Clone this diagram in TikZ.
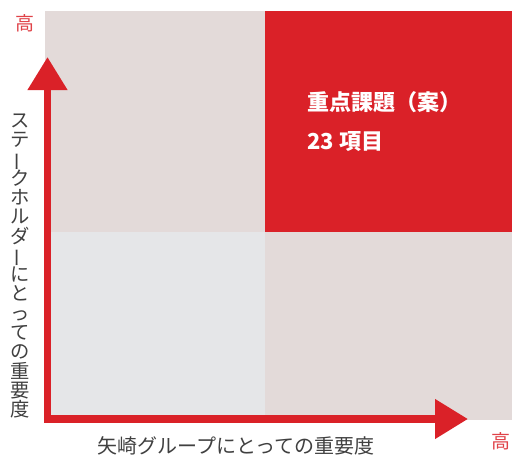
\documentclass[tikz,border=0pt]{standalone}
\usepackage{fontspec}
\usepackage{graphicx}
\setmainfont{Noto Sans CJK JP}
\usetikzlibrary{arrows.meta}
\definecolor{qbeige}{HTML}{E3DAD9}
\definecolor{qgrey}{HTML}{E5E6E8}
\definecolor{qred}{HTML}{DA2128}
\newcommand{\vbar}{\smash{\rotatebox[origin=c]{90}{ー}}}
\tikzset{
  axis/.style={draw=qred, line width=7.5pt, line join=miter,
    {Triangle[width=38pt,length=33pt]}-{Triangle[width=38pt,length=33pt]}},
  hi/.style={text=qred!85, font=\fontsize{19}{19}\selectfont, inner sep=0pt},
  axlabel/.style={text=black!75, inner sep=0pt},
  ttl/.style={text=white, font=\fontsize{22}{22}\selectfont\bfseries, inner sep=0pt, anchor=west}
}
\begin{document}
\begin{tikzpicture}[x=1pt,y=-1pt]
\useasboundingbox (0,0) rectangle (512,455);
\fill[white] (0,0) rectangle (512,455);
% quadrants
\fill[qbeige] (45,11) rectangle (265,232);
\fill[qred] (265,11) rectangle (512,232);
\fill[qgrey] (45,232) rectangle (265,420);
\fill[qbeige] (265,232) rectangle (512,420);
% axes
\coordinate (ytop) at (47.5,57);
\coordinate (orig) at (47.5,419);
\coordinate (xend) at (468,419);
\draw[axis] (ytop) -- (orig) -- (xend);
% labels
\node[hi] (hiy) at (25.5,23.5) {高};
\node[hi] (hix) at (501,441) {高};
\node[axlabel, align=center, font=\fontsize{19.3}{19.3}\selectfont] (ylab) at (20,266)
  {ス\\テ\\\vbar\\ク\\ホ\\ル\\ダ\\\vbar\\に\\と\\っ\\て\\の\\重\\要\\度};
\node[axlabel, font=\fontsize{20}{20}\selectfont] (xlab) at (236,446) {矢崎グループにとっての重要度};
\node[ttl] (t1) at (307,102) {重点課題（案）};
\node[ttl] (t2) at (307,142) {23 項目};
\end{tikzpicture}
\end{document}
